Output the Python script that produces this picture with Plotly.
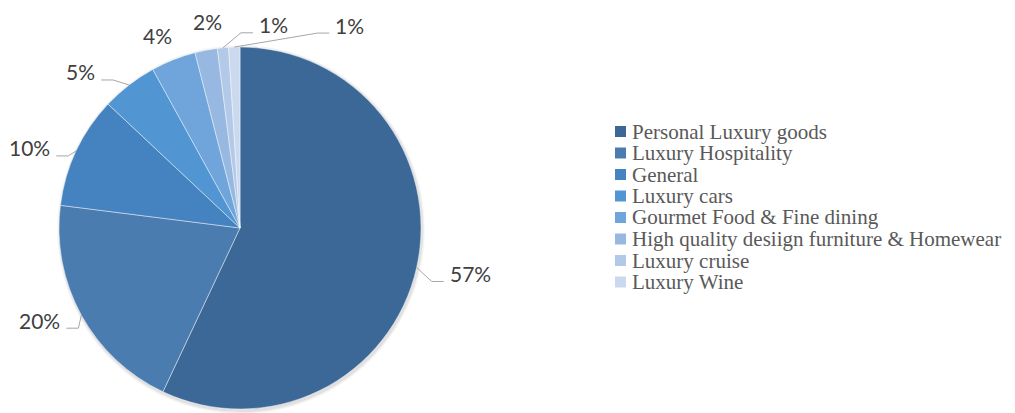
import math
import plotly.graph_objects as go

# Market share by luxury segment (%)
categories = [
    "Personal Luxury goods",
    "Luxury Hospitality",
    "General",
    "Luxury cars",
    "Gourmet Food & Fine dining",
    "High quality desiign furniture & Homewear",
    "Luxury cruise",
    "Luxury Wine",
]
shares = [57, 20, 10, 5, 4, 2, 1, 1]

colors = ["#3b6896", "#4a7cb0", "#4482c0", "#5195d2",
          "#70a5dc", "#97b8e1", "#b3c9e8", "#cbd9ee"]

W, H = 1015, 413
CX, CY, R = 240, 228, 181


def px(x):
    return x / W


def py(y):
    return 1 - y / H


fig = go.Figure(go.Pie(
    labels=categories,
    values=shares,
    sort=False,
    direction="clockwise",
    rotation=0,
    marker=dict(colors=colors, line=dict(color="rgba(255,255,255,0.55)", width=0.8)),
    textinfo="none",
    hoverinfo="label+percent",
    showlegend=False,
    domain=dict(x=[px(CX - R), px(CX + R)], y=[py(CY + R), py(CY - R)]),
))

# soft drop shadow under the pie
for k, a in enumerate([0.05, 0.04, 0.03]):
    g = 1 + k
    fig.add_shape(type="circle", xref="paper", yref="paper", layer="below",
                  x0=px(CX - R - g + 1), x1=px(CX + R + g + 1),
                  y0=py(CY + R + g + 2), y1=py(CY - R - g + 1),
                  fillcolor=f"rgba(0,0,0,{a})", line=dict(width=0))

# data label placement: offset (px) from the slice's outer-edge midpoint
label_offsets = [(31, 6), (-19, 5), (-24, -3), (-32, -13), (-16, -24), (1, -29), (34, -23), (99, -22)]
label_anchor = ["left", "right", "right", "right", "center", "center", "left", "left"]
label_leader = [True, True, True, True, False, False, True, True]

label_font = dict(family="Lato, Carlito, Arial", size=21, color="#404040")
total = sum(shares)
cum = 0
for i, v in enumerate(shares):
    mid = (cum + v / 2) / total * 2 * math.pi
    cum += v
    ex = CX + R * math.sin(mid)
    ey = CY - R * math.cos(mid)
    dx, dy = label_offsets[i]
    ax, ay = ex + dx, ey + dy
    fig.add_annotation(x=px(ax), y=py(ay), xref="paper", yref="paper",
                       text=f"{round(v / total * 100)}%", showarrow=False,
                       xanchor=label_anchor[i], yanchor="middle", font=label_font)
    if label_leader[i]:
        side = 1 if label_anchor[i] == "left" else -1
        endx, endy = ax - side * 4, ay + 8
        elbx = endx - side * 12
        path = f"M {px(ex)},{py(ey)} L {px(elbx)},{py(endy)} L {px(endx)},{py(endy)}"
        fig.add_shape(type="path", path=path, xref="paper", yref="paper",
                      line=dict(color="#a6a6a6", width=1))

# legend, drawn as swatches + text
LEG_X, LEG_Y0, LEG_DY, SW = 615, 131.5, 21.5, 11
for i, name in enumerate(categories):
    yc = LEG_Y0 + i * LEG_DY
    fig.add_shape(type="rect", xref="paper", yref="paper",
                  x0=px(LEG_X), x1=px(LEG_X + SW), y0=py(yc + SW / 2), y1=py(yc - SW / 2),
                  fillcolor=colors[i], line=dict(width=0))
    fig.add_annotation(x=px(LEG_X + SW + 4), y=py(yc), xref="paper", yref="paper",
                       text=name, showarrow=False, xanchor="left", yanchor="middle",
                       font=dict(family="Liberation Serif, Times New Roman, serif",
                                 size=21, color="#595959"))

fig.update_layout(
    width=W, height=H,
    margin=dict(l=0, r=0, t=0, b=0),
    paper_bgcolor="white",
    plot_bgcolor="white",
)

fig.write_html("out.html")
